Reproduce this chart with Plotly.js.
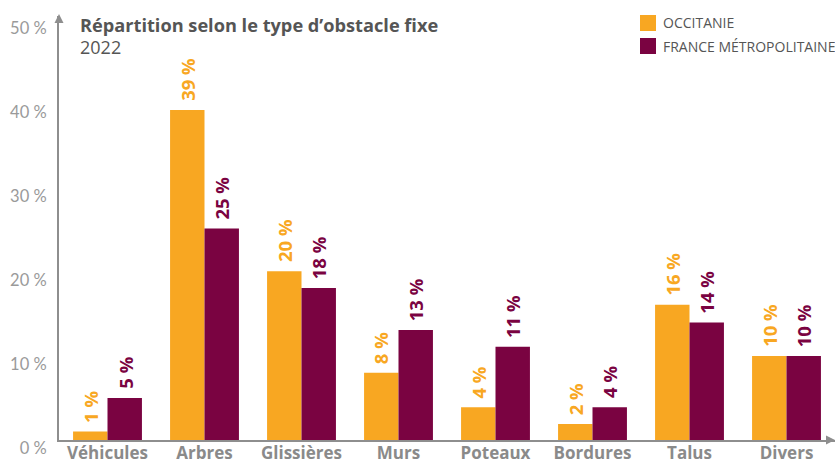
<!DOCTYPE html>
<html>
<head>
<meta charset="utf-8">
<script src="https://cdn.plot.ly/plotly-3.0.1.min.js"></script>
<style>html,body{margin:0;padding:0;background:#fff;}#chart{width:835px;height:464px;}</style>
</head>
<body>
<div id="chart"></div>
<script>
const categories = ["Véhicules", "Arbres", "Glissières", "Murs", "Poteaux", "Bordures", "Talus", "Divers"];
const occitanie = [1, 39.3, 20.1, 8, 3.9, 1.9, 16.1, 10];
const france = [5, 25.2, 18.1, 13.1, 11.1, 3.9, 14, 10];
const seriesNames = ["OCCITANIE", "FRANCE MÉTROPOLITAINE"];
const yTickVals = [0, 10, 20, 30, 40, 50];
const yTickText = ["0 %", "10 %", "20 %", "30 %", "40 %", "50 %"];
const titleText = "Répartition selon le type d’obstacle fixe";
const subtitleText = "2022";

const ORANGE = "#F8A722";
const PURPLE = "#7A0341";
const AXIS = "#8e8e8e";
const FONT = "'Open Sans', Lato, sans-serif";
const LIGHT = "Lato, 'Open Sans', sans-serif";

const W = 835, H = 464;
const M = {l: 59, r: 0, t: 16, b: 24};
const PW = W - M.l - M.r, PH = H - M.t - M.b;
const px = x => (x - M.l) / PW;
const py = y => (H - M.b - y) / PH;

const traces = [
  {type: "bar", x: categories, y: occitanie, name: seriesNames[0], marker: {color: ORANGE}, hoverinfo: "none"},
  {type: "bar", x: categories, y: france, name: seriesNames[1], marker: {color: PURPLE}, hoverinfo: "none"}
];

const annotations = [];
const colors = [ORANGE, PURPLE];
[occitanie, france].forEach((vals, s) => {
  vals.forEach((v, i) => {
    annotations.push({
      x: categories[i], y: v, xref: "x", yref: "y",
      xshift: s === 0 ? -17.2 : 17.2, yshift: 7,
      text: "<b>" + Math.round(v) + " %</b>", textangle: -90, showarrow: false,
      yanchor: "bottom", xanchor: "center",
      font: {family: FONT, size: 18.5, color: colors[s]}
    });
  });
});

annotations.push({
  xref: "paper", yref: "paper", x: px(78), y: py(11), xanchor: "left", yanchor: "top",
  text: "<b>" + titleText + "</b>", showarrow: false, align: "left",
  font: {family: FONT, size: 18.2, color: "#555555"}
});
annotations.push({
  xref: "paper", yref: "paper", x: px(78), y: py(33), xanchor: "left", yanchor: "top",
  text: subtitleText, showarrow: false, align: "left",
  font: {family: FONT, size: 18, color: "#555555"}
});

const shapes = [
  {type: "rect", xref: "paper", yref: "paper", x0: px(640), x1: px(656), y0: py(15), y1: py(31), fillcolor: ORANGE, line: {width: 0}},
  {type: "rect", xref: "paper", yref: "paper", x0: px(640), x1: px(656), y0: py(38), y1: py(54), fillcolor: PURPLE, line: {width: 0}},
  {type: "path", xref: "paper", yref: "paper", xsizemode: "pixel", ysizemode: "pixel", xanchor: 0, yanchor: 1,
   path: "M -4.5 -7 L 0 2 L 4.5 -7 Z", fillcolor: AXIS, line: {width: 0}},
  {type: "path", xref: "paper", yref: "paper", xsizemode: "pixel", ysizemode: "pixel", xanchor: 1, yanchor: 0,
   path: "M -9 4.5 L 0 0 L -9 -4.5 Z", fillcolor: AXIS, line: {width: 0}}
];

seriesNames.forEach((n, s) => {
  annotations.push({
    xref: "paper", yref: "paper", x: px(661), y: py(s === 0 ? 23 : 46), xanchor: "left", yanchor: "middle",
    text: n, showarrow: false, font: {family: FONT, size: 14, color: "#555555"}
  });
});

const layout = {
  width: W, height: H,
  margin: M,
  paper_bgcolor: "#fff", plot_bgcolor: "#fff",
  showlegend: false,
  barmode: "group", bargap: 0.29, bargroupgap: 0,
  font: {family: FONT},
  xaxis: {
    range: [-0.5, 7.5], showgrid: false, zeroline: false,
    showline: true, linecolor: AXIS, linewidth: 2,
    ticks: "", automargin: false, ticklabelstandoff: -3,
    tickfont: {family: FONT, size: 17, color: "#8a8a8a", weight: 700},
    fixedrange: true
  },
  yaxis: {
    range: [0, 50.5], showgrid: false, zeroline: false,
    showline: true, linecolor: AXIS, linewidth: 2,
    tickvals: yTickVals, ticktext: yTickText,
    ticks: "", automargin: false, ticklabelshift: 8, ticklabelstandoff: 7,
    tickfont: {family: LIGHT, size: 16.5, color: "#9a9a9a"},
    fixedrange: true
  },
  annotations: annotations,
  shapes: shapes
};

Plotly.newPlot("chart", traces, layout, {staticPlot: true, displayModeBar: false});
</script>
</body>
</html>
